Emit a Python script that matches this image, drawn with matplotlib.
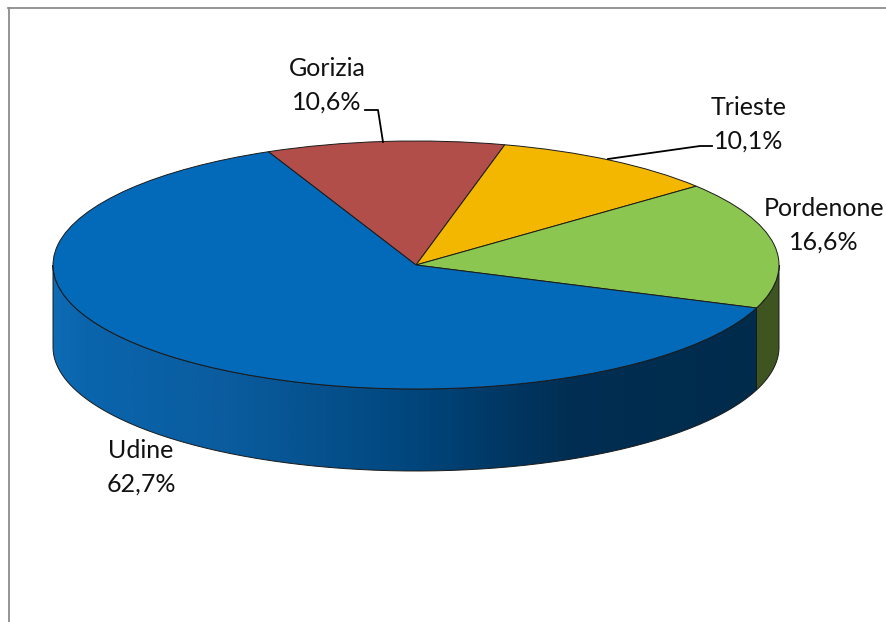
import numpy as np
import matplotlib
matplotlib.use("Agg")
import matplotlib.pyplot as plt
from matplotlib.colors import LinearSegmentedColormap
from matplotlib.patches import PathPatch
from matplotlib.path import Path

plt.rcParams['font.family'] = ['Lato', 'DejaVu Sans']

# slices, going clockwise from the back
names = ['Gorizia', 'Trieste', 'Pordenone', 'Udine']
labels = ['10,6%', '10,1%', '16,6%', '62,7%']
values = [10.6, 10.1, 16.6, 62.7]
colors = ['#b14e4a', '#f4b700', '#8bc650', '#0369b9']

W, H = 886, 622
cx, cy, rx, ry = 416, 265, 363, 124
depth = 82 / ry
start = 114

fig = plt.figure(figsize=(W / 100, H / 100), dpi=100, facecolor='white')
ax = fig.add_axes([0, 0, 1, 1])

wedges, _ = ax.pie(values, startangle=start, counterclock=False, colors=colors, radius=1,
                   wedgeprops=dict(edgecolor='#1a1a1a', linewidth=0.7, zorder=5))
for w in wedges:
    w.set_zorder(5)

ax.set_aspect('auto')
ax.axis('off')


def wall(a1, a2):
    # side of the disc between two angles in degrees
    t = np.radians(np.linspace(a1, a2, 200))
    x = np.cos(t)
    y = np.sin(t)
    xs = np.concatenate([x, x[::-1], x[:1]])
    ys = np.concatenate([y, y[::-1] - depth, y[:1]])
    return Path(np.column_stack([xs, ys]))


# angles of the slice ends from the values
ends = start - np.cumsum(values) * 3.6
pord_end = ends[2]

# Udine side with the dark gradient
udine_path = wall(180, pord_end + 360 if pord_end < 0 else pord_end)
cmap = LinearSegmentedColormap.from_list('side', [
    (0.0, '#0e6cb4'), (0.04, '#0a65ad'), (0.25, '#0a5c9e'), (0.5, '#01477f'),
    (0.62, '#003a68'), (0.74, '#002e52'), (1.0, '#002b4b')])
im = ax.imshow(np.linspace(0, 1, 400).reshape(1, -1), cmap=cmap, aspect='auto',
               extent=[-1, np.cos(np.radians(pord_end)), -1 - depth, 0.2], zorder=2)
edge = PathPatch(udine_path, facecolor='none', edgecolor='#1a1a1a', linewidth=0.7, zorder=3)
ax.add_patch(edge)
im.set_clip_path(edge)

# Pordenone side
ax.add_patch(PathPatch(wall(pord_end, 0), facecolor='#3e5522', edgecolor='#1a1a1a',
                       linewidth=0.7, zorder=3))

ax.set_xlim(-cx / rx, (W - cx) / rx)
ax.set_ylim((cy - H) / ry, cy / ry)


def px(x, y):
    return (x - cx) / rx, (cy - y) / ry


# data labels
positions = [(327, 85), (749, 124), (824, 225), (141, 467)]
for name, lab, pos in zip(names, labels, positions):
    x, y = px(*pos)
    ax.text(x, y, name + '\n' + lab, ha='center', va='center', fontsize=18,
            color='#111111', linespacing=1.55, zorder=6)

# leader lines
gor = [px(365, 110), px(378, 110), px(383, 142)]
tri = [px(608, 159), px(700, 146), px(712, 146)]
for line in (gor, tri):
    ax.plot([p[0] for p in line], [p[1] for p in line], color='black', lw=1.3, zorder=6)

# frame of the chart area
fig.add_artist(plt.Line2D([8.5 / W, 8.5 / W], [0, 1 - 8 / H], color='#8c8c8c', lw=1.3))
fig.add_artist(plt.Line2D([8 / W, 1], [1 - 8 / H, 1 - 8 / H], color='#8c8c8c', lw=1.3))

fig.savefig('out.png', dpi=100, facecolor='white')
